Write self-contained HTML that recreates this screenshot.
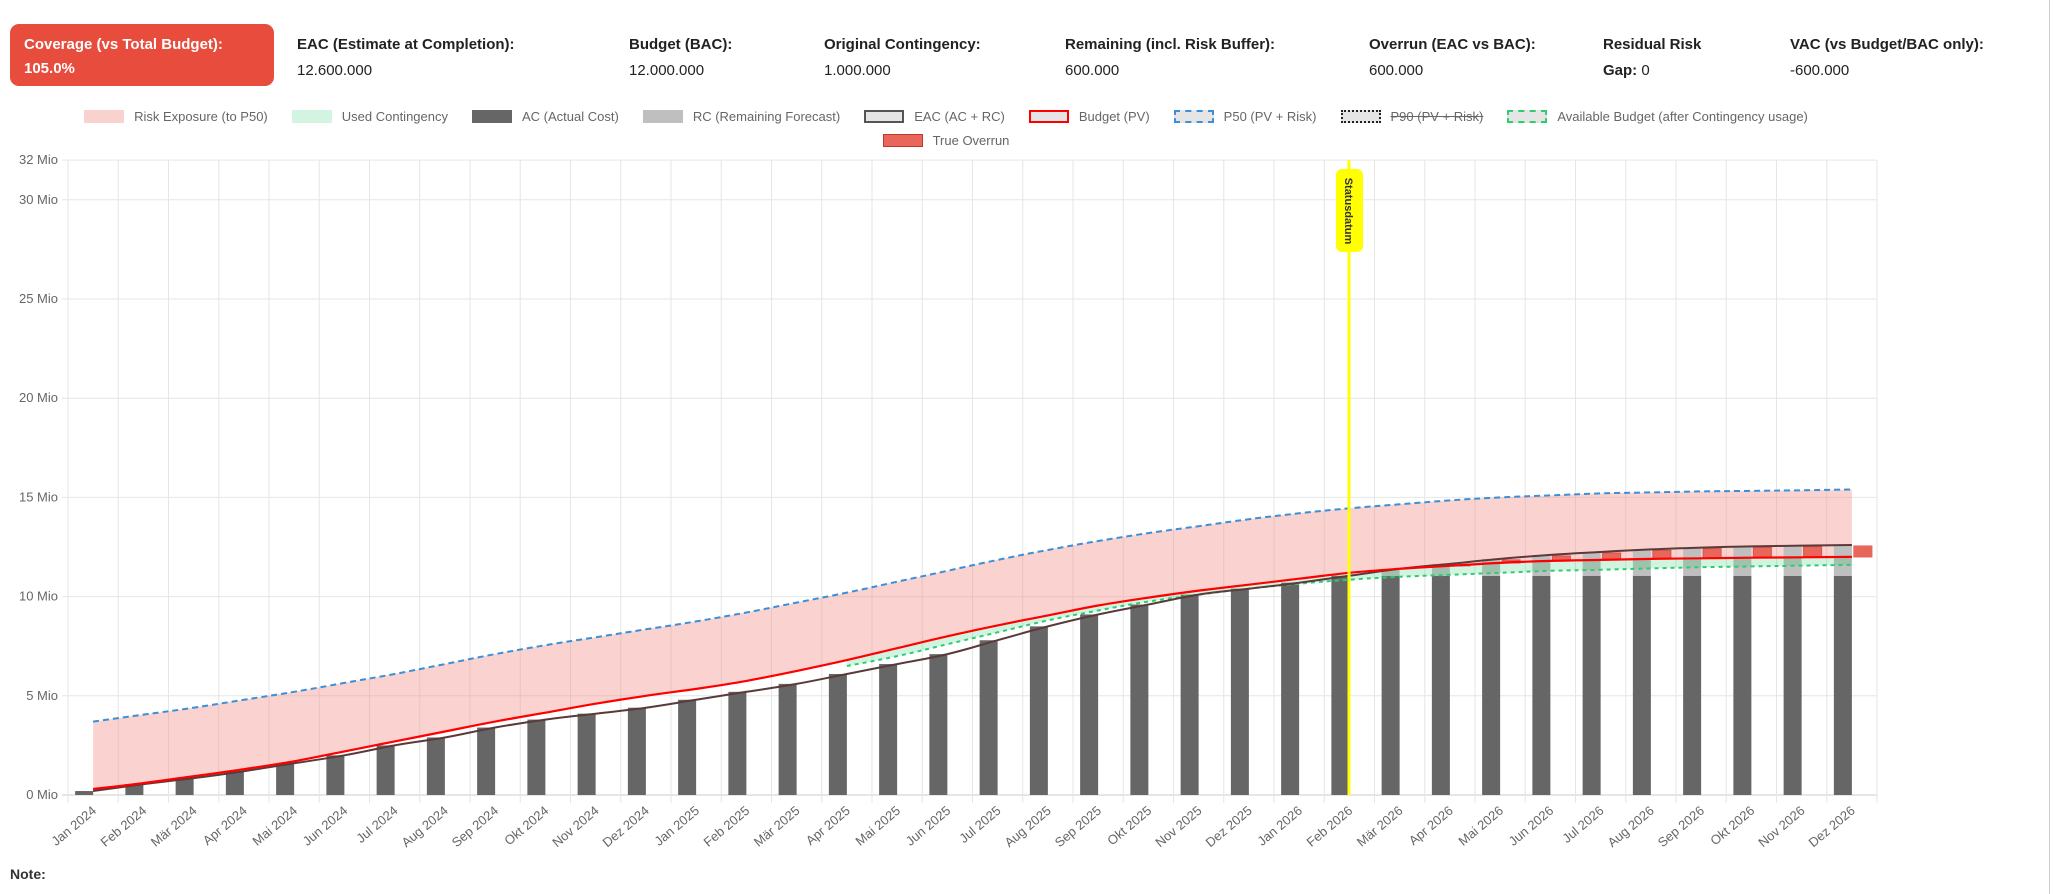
<!DOCTYPE html>
<html><head><meta charset="utf-8"><style>
body{margin:0;width:2054px;height:894px;background:#fff;font-family:"Liberation Sans",sans-serif;position:relative;overflow:hidden}
.box{position:absolute;left:10px;top:24px;width:264px;height:62px;background:#e74c3c;border-radius:9px;color:#fff;font-weight:bold;font-size:15px}
.h{position:absolute;top:36px;font-size:15px;color:#222}
.h b{display:block;margin-bottom:9px}
.row{position:absolute;left:0;width:1892px;display:flex;justify-content:center;font-size:13px;color:#666;white-space:nowrap}
.it{display:flex;align-items:center;margin:0 12px}
.sw{width:40px;height:13px;box-sizing:border-box;margin-right:10px}
</style></head><body>
<div class="box"><div style="position:absolute;left:14px;top:12px">Coverage (vs Total Budget):</div><div style="position:absolute;left:14px;top:36px">105.0%</div></div>
<div class="h" style="left:297px"><b>EAC (Estimate at Completion):</b>12.600.000</div>
<div class="h" style="left:629px"><b>Budget (BAC):</b>12.000.000</div>
<div class="h" style="left:824px"><b>Original Contingency:</b>1.000.000</div>
<div class="h" style="left:1065px"><b>Remaining (incl. Risk Buffer):</b>600.000</div>
<div class="h" style="left:1369px"><b>Overrun (EAC vs BAC):</b>600.000</div>
<div class="h" style="left:1603px"><b>Residual Risk</b><span style="font-weight:bold">Gap:</span> 0</div>
<div class="h" style="left:1790px"><b>VAC (vs Budget/BAC only):</b>-600.000</div>

<div class="row" style="top:109px">
<div class="it"><div class="sw" style="background:#f8d2cf"></div>Risk Exposure (to P50)</div>
<div class="it"><div class="sw" style="background:#d4f4e2"></div>Used Contingency</div>
<div class="it"><div class="sw" style="background:#666"></div>AC (Actual Cost)</div>
<div class="it"><div class="sw" style="background:#bfbfbf"></div>RC (Remaining Forecast)</div>
<div class="it"><div class="sw" style="background:#e5e5e5;border:2px solid #555"></div>EAC (AC + RC)</div>
<div class="it"><div class="sw" style="background:#e5e5e5;border:2px solid #f00"></div>Budget (PV)</div>
<div class="it"><div class="sw" style="background:#e5e5e5;border:2px dashed #3a8fd8"></div>P50 (PV + Risk)</div>
<div class="it"><div class="sw" style="background:#e5e5e5;border:2px dotted #222"></div><span style="text-decoration:line-through">P90 (PV + Risk)</span></div>
<div class="it"><div class="sw" style="background:#e5e5e5;border:2px dashed #2ecc71"></div>Available Budget (after Contingency usage)</div>
</div>
<div class="row" style="top:133px">
<div class="it"><div class="sw" style="background:#e8675a;border:1px solid #c0392b"></div>True Overrun</div>
</div>
<svg id="c" width="2054" height="894" style="position:absolute;left:0;top:0"></svg>
<div style="position:absolute;left:10px;top:866px;font-weight:bold;font-size:14px;color:#333">Note:</div>
<div style="position:absolute;left:2049px;top:0;width:1px;height:894px;background:#ccc"></div>
<script>
const X0=68,X1=1877,W=50.25,Y=v=>795-v*19.84,cx=i=>X0+W*(i+.5);
const m=["Jan","Feb","Mär","Apr","Mai","Jun","Jul","Aug","Sep","Okt","Nov","Dez"];
const AC=[0.2,0.55,0.85,1.2,1.6,2.0,2.5,2.9,3.4,3.8,4.1,4.4,4.8,5.2,5.6,6.1,6.6,7.1,7.8,8.5,9.1,9.6,10.1,10.4,10.7,11.05];
const EAC=AC.concat([11.4,11.65,11.9,12.1,12.25,12.38,12.47,12.53,12.57,12.6]);
for(let i=26;i<36;i++)AC.push(11.05);
const BU=[0.3,0.6,0.95,1.3,1.7,2.2,2.7,3.2,3.7,4.15,4.6,5.0,5.35,5.75,6.25,6.8,7.4,8.0,8.55,9.05,9.55,9.95,10.3,10.6,10.9,11.2,11.4,11.55,11.7,11.8,11.85,11.9,11.93,11.96,11.98,12.0];
const P50=[3.7,4.05,4.4,4.8,5.2,5.65,6.1,6.6,7.1,7.55,7.95,8.35,8.75,9.2,9.7,10.2,10.75,11.3,11.85,12.35,12.8,13.2,13.55,13.9,14.2,14.45,14.65,14.85,15.0,15.1,15.2,15.25,15.3,15.33,15.36,15.4];
const AV=[6.5,7.0,7.6,8.2,8.8,9.3,9.75,10.1,10.4,10.65,10.85,11.0,11.1,11.2,11.3,11.35,11.42,11.48,11.52,11.56,11.6];
function pts(a,off){return a.map((v,k)=>[cx(k+(off||0)),Y(v)])}
function path(p,move){let d=(move?"M":"L")+p[0][0].toFixed(1)+","+p[0][1].toFixed(1);for(let i=0;i<p.length-1;i++){const p0=p[i-1]||p[i],p1=p[i],p2=p[i+1],p3=p[i+2]||p2,t=0.2;d+=`C${(p1[0]+(p2[0]-p0[0])*t).toFixed(1)},${(p1[1]+(p2[1]-p0[1])*t).toFixed(1)} ${(p2[0]-(p3[0]-p1[0])*t).toFixed(1)},${(p2[1]-(p3[1]-p1[1])*t).toFixed(1)} ${p2[0].toFixed(1)},${p2[1].toFixed(1)}`}return d}
let s="";
[0,5,10,15,20,25,30,32].forEach(v=>{s+=`<line x1="${X0-6}" x2="${X1}" y1="${Y(v)}" y2="${Y(v)}" stroke="${v==0?'#ccc':'#e6e6e6'}"/><text x="${X0-10}" y="${Y(v)+4}" text-anchor="end" font-size="13" fill="#666">${v} Mio</text>`});
for(let i=0;i<=36;i++){const x=X0+W*i;s+=`<line x1="${x}" x2="${x}" y1="${Y(32)}" y2="803" stroke="#e6e6e6"/>`}
for(let i=0;i<36;i++){s+=`<text transform="translate(${cx(i)+4},812) rotate(-40)" text-anchor="end" font-size="13" fill="#666">${m[i%12]} ${2024+Math.floor(i/12)}</text>`}
const pb=pts(BU),pp=pts(P50);
s+=`<path d="${path(pp,1)}L${pb[35][0]},${pb[35][1]}${path(pb.slice().reverse(),0).replace(/^L[^C]*/,'')}Z" fill="rgba(240,130,120,0.35)"/>`;
for(let i=0;i<36;i++){const x=cx(i)-18;s+=`<rect x="${x}" y="${Y(AC[i])}" width="18" height="${Y(0)-Y(AC[i])}" fill="#666"/>`;if(EAC[i]>AC[i]+0.01)s+=`<rect x="${x}" y="${Y(EAC[i])}" width="18" height="${Y(AC[i])-Y(EAC[i])}" fill="#bfbfbf"/>`}
const pa=pts(AV,15),pb2=pb.slice(15);
s+=`<path d="${path(pb2,1)}L${pa[20][0]},${pa[20][1]}${path(pa.slice().reverse(),0).replace(/^L[^C]*/,'')}Z" fill="rgba(46,204,113,0.22)"/>`;
for(let i=27;i<36;i++){const t=EAC[i]-0.05;if(t>BU[i])s+=`<rect x="${cx(i)+2}" y="${Y(t)}" width="18" height="${Y(BU[i])-Y(t)}" fill="#e8675a" stroke="#d9534f" stroke-width="1"/>`}
s+=`<rect x="${cx(35)+2}" y="${Y(12.55)}" width="18" height="${Y(12.0)-Y(12.55)}" fill="#e8675a"/>`;
s+=`<path d="${path(pa,1)}" fill="none" stroke="#2ecc71" stroke-width="2" stroke-dasharray="4,4"/>`;
s+=`<path d="${path(pts(EAC),1)}" fill="none" stroke="#5a3a3a" stroke-width="2"/>`;
s+=`<path d="${path(pb,1)}" fill="none" stroke="#f00" stroke-width="2.2"/>`;
s+=`<path d="${path(pp,1)}" fill="none" stroke="#3a8fd8" stroke-width="2" stroke-dasharray="6,4"/>`;
s+=`<line x1="1349" x2="1349" y1="${Y(32)}" y2="795" stroke="#ffff00" stroke-width="3"/><rect x="1336" y="169" width="27" height="83" rx="6" fill="#ffff00"/><text transform="translate(1345,211) rotate(90)" text-anchor="middle" font-size="11" font-weight="bold" fill="#333">Statusdatum</text>`;
document.getElementById('c').innerHTML=s;
</script>
</body></html>
